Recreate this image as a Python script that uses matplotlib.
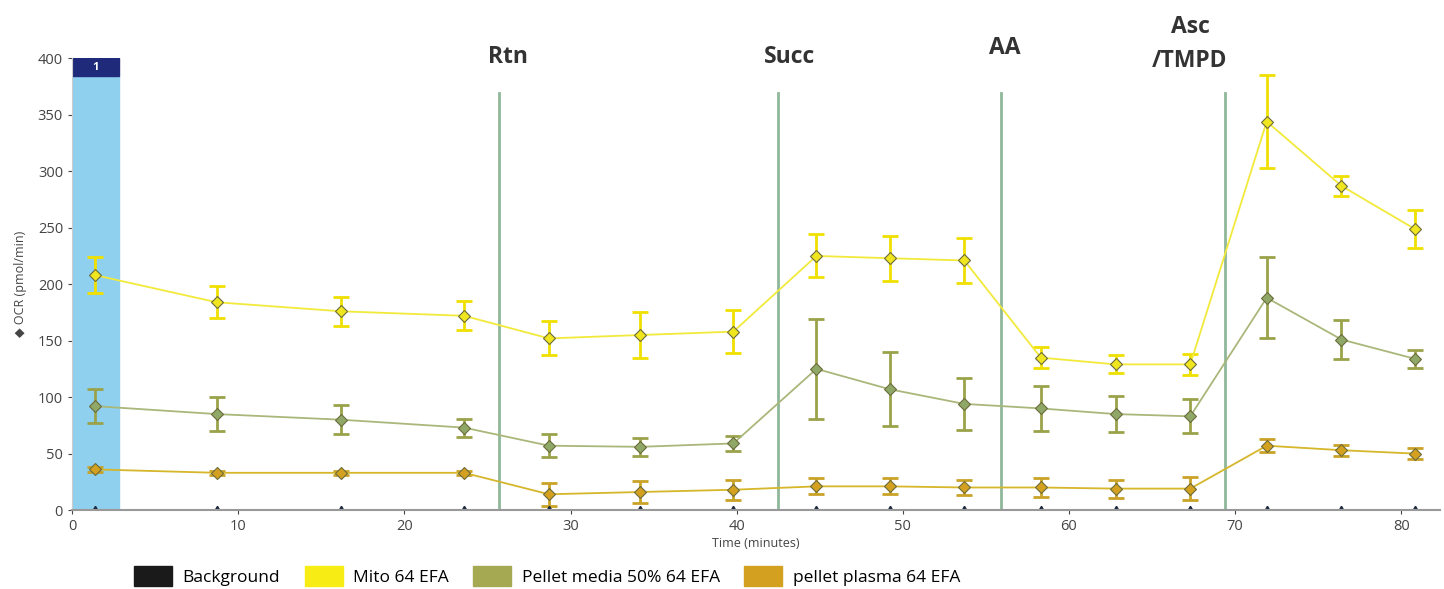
import matplotlib.pyplot as plt
from matplotlib.patches import Patch, Rectangle

plt.rcParams['font.family'] = ['Open Sans', 'DejaVu Sans']

# time points (minutes)
time = [1.4, 8.7, 16.2, 23.6, 28.7, 34.2, 39.8, 44.8, 49.2, 53.7,
        58.3, 62.8, 67.3, 71.9, 76.4, 80.8]

background = [0] * 16

mito = [208, 184, 176, 172, 152, 155, 158, 225, 223, 221, 135, 129, 129, 344, 287, 249]
mito_err = [16, 14, 13, 13, 15, 20, 19, 19, 20, 20, 9, 8, 9, 41, 9, 17]

media = [92, 85, 80, 73, 57, 56, 59, 125, 107, 94, 90, 85, 83, 188, 151, 134]
media_err = [15, 15, 13, 8, 10, 8, 7, 44, 33, 23, 20, 16, 15, 36, 17, 8]

plasma = [36, 33, 33, 33, 14, 16, 18, 21, 21, 20, 20, 19, 19, 57, 53, 50]
plasma_err = [2, 2, 2, 2, 10, 10, 9, 7, 7, 7, 8, 8, 10, 6, 5, 5]

injections = [25.7, 42.5, 55.9, 69.4]
injection_labels = ['Rtn', 'Succ', 'AA', 'Asc\n/TMPD']

fig = plt.figure(figsize=(14.44, 5.89), dpi=100)
ax = fig.add_axes([0.0499, 0.134, 0.947, 0.767])

# measurement window 1
ax.add_patch(Rectangle((0, 0), 2.8, 384, color='#8fd0ee', zorder=0))
ax.add_patch(Rectangle((0, 384), 2.8, 16, color='#1f2a7a', zorder=0))
ax.text(1.4, 392, '1', color='white', ha='center', va='center', fontsize=8, fontweight='bold')

for xv in injections:
    ax.plot([xv, xv], [0, 369], color='#8fb89a', linewidth=2, zorder=1)

series = [
    (plasma, plasma_err, '#d6b62a', '#d4a020', '#c9a227'),
    (media, media_err, '#aab77a', '#8fa868', '#9aa24a'),
    (mito, mito_err, '#f2ea3a', '#f0e620', '#f0e000'),
]
for vals, err, lc, mc, ec in series:
    ax.errorbar(time, vals, yerr=err, fmt='none', ecolor=ec, elinewidth=2,
                capsize=6, capthick=2, zorder=2)
    ax.plot(time, vals, color=lc, linewidth=1.3, zorder=3)
    ax.plot(time, vals, linestyle='none', marker='D', markersize=6.5,
            markerfacecolor=mc, markeredgecolor='#6b6b3a', markeredgewidth=0.8, zorder=4)

# background wells sit on the x axis, only the top half shows
ax.plot(time, background, linestyle='none', marker=(3, 0, 0), markersize=6,
        color='#1c2a40', zorder=5)

ax.set_xlim(0, 82.3)
ax.set_ylim(0, 400)
ax.set_xticks(range(0, 81, 10))
ax.set_yticks(range(0, 401, 50))
ax.tick_params(labelsize=10.5, colors='#444444', length=3)
for s in ['top', 'right']:
    ax.spines[s].set_visible(False)
ax.spines['left'].set_color('#cccccc')
ax.spines['bottom'].set_color('#999999')
ax.spines['bottom'].set_linewidth(1.5)
ax.spines['bottom'].set_zorder(6)

ax.set_xlabel('Time (minutes)', fontsize=9, color='#444444', labelpad=2)
ax.set_ylabel('\u25c6 OCR (pmol/min)', fontsize=9, color='#444444', labelpad=8)

# injection labels above plot
label_pos = [(508, 57), (790, 57), (1005, 48), (1190, 44)]
for (px, py), lab in zip(label_pos, injection_labels):
    fig.text(px / 1444, 1 - py / 589, lab, ha='center', va='center',
             fontsize=16.5, fontweight='bold', color='#333333', linespacing=1.55)

handles = [Patch(color='#1a1a1a'), Patch(color='#f7ec13'),
           Patch(color='#a5aa52'), Patch(color='#d4a020')]
names = ['Background', 'Mito 64 EFA', 'Pellet media 50% 64 EFA', 'pellet plasma 64 EFA']
fig.legend(handles, names, loc='lower left', bbox_to_anchor=(0.082, -0.022), ncol=4,
           frameon=False, fontsize=12.5, handlelength=2.2, handleheight=1.4,
           columnspacing=1.4, handletextpad=0.6)

fig.savefig('out.png', dpi=100)
